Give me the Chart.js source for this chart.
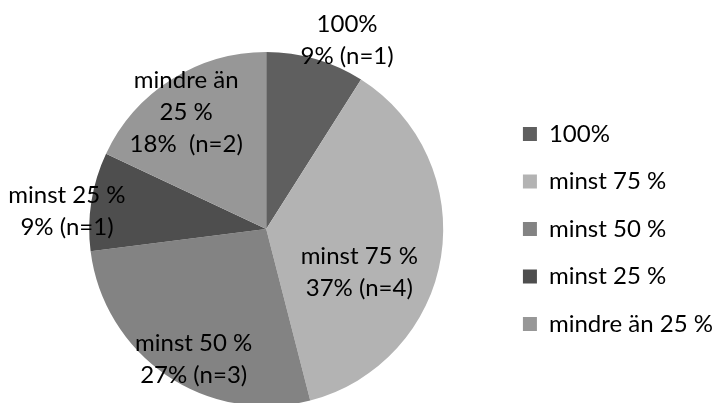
<!DOCTYPE html>
<html>
<head>
<meta charset="utf-8">
<script src="https://cdn.jsdelivr.net/npm/chart.js@4/dist/chart.umd.min.js"></script>
<style>
  html, body { margin: 0; padding: 0; background: #fff; overflow: hidden; }
  #wrap { width: 740px; height: 410px; position: relative; }
</style>
</head>
<body>
<div id="wrap"><canvas id="andelChart"></canvas></div>
<script>
// Andel svar per kategori
const categories = ["100%", "minst 75 %", "minst 50 %", "minst 25 %", "mindre än 25 %"];
const percents = [9, 37, 27, 9, 18];
const counts = [1, 4, 3, 1, 2];
const sliceLabels = [
    ["100%", "9% (n=1)"],
    ["minst 75 %", "37% (n=4)"],
    ["minst 50 %", "27% (n=3)"],
    ["minst 25 %", "9% (n=1)"],
    ["mindre än", "25 %", "18%  (n=2)"]
];
const colors = ['#5f5f5f', '#b3b3b3', '#838383', '#4e4e4e', '#979797'];

const FONT = 'Lato, "Liberation Sans", sans-serif';

// where each label sits: fraction of radius, angle shift from slice middle (degrees)
const labelPlace = [
    { r: 1.16, da: 7 },
    { r: 0.58, da: 16 },
    { r: 0.84, da: -5 },
    { r: 1.13, da: -4 },
    { r: 0.80, da: -2 }
];

const sliceText = {
    id: 'sliceText',
    afterDatasetsDraw(chart) {
        const ctx = chart.ctx;
        const meta = chart.getDatasetMeta(0);
        ctx.save();
        ctx.font = '24px ' + FONT;
        ctx.fillStyle = '#000';
        ctx.textAlign = 'center';
        ctx.textBaseline = 'middle';
        const lh = 32;
        meta.data.forEach((arc, i) => {
            const p = arc.getProps(['x', 'y', 'startAngle', 'endAngle', 'outerRadius']);
            const mid = (p.startAngle + p.endAngle) / 2 + labelPlace[i].da * Math.PI / 180;
            const rr = p.outerRadius * labelPlace[i].r;
            const cx = p.x + Math.cos(mid) * rr;
            const cy = p.y + Math.sin(mid) * rr;
            const lines = sliceLabels[i];
            lines.forEach((t, k) => {
                ctx.fillText(t, cx, cy + (k - (lines.length - 1) / 2) * lh);
            });
        });
        ctx.restore();
    }
};

const ctx = document.getElementById('andelChart').getContext('2d');
const andelChart = new Chart(ctx, {
    type: 'pie',
    data: {
        labels: categories,
        datasets: [{
            data: percents,
            backgroundColor: colors,
            borderWidth: 0
        }]
    },
    options: {
        responsive: true,
        maintainAspectRatio: false,
        animation: false,
        layout: {
            padding: { left: 33, top: 52, right: 17, bottom: 4 }
        },
        plugins: {
            tooltip: { enabled: false },
            legend: {
                position: 'right',
                labels: {
                    boxWidth: 14,
                    boxHeight: 14,
                    padding: 23.5,
                    color: '#000',
                    font: { family: FONT, size: 24 }
                }
            }
        }
    },
    plugins: [sliceText]
});
</script>
</body>
</html>
